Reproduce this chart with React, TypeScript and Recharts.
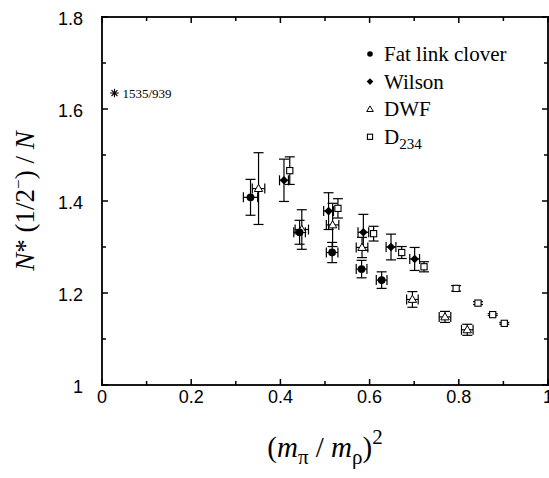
import React from "react";
import { ScatterChart, Scatter, XAxis, YAxis, ErrorBar } from "recharts";

// tick positions (labels on every second one)
const xTicks = [0, 0.1, 0.2, 0.3, 0.4, 0.5, 0.6, 0.7, 0.8, 0.9, 1];
const yTicks = [1, 1.1, 1.2, 1.3, 1.4, 1.5, 1.6, 1.7, 1.8];

// Fat link clover
const fatX = [0.333, 0.443, 0.516, 0.582, 0.627];
const fatY = [1.408, 1.332, 1.288, 1.252, 1.228];
const fatYErr = [0.039, 0.026, 0.022, 0.019, 0.018];
const fatXErr = [0.016, 0.013, 0.013, 0.012, 0.012];

// Wilson
const wilsonX = [0.408, 0.508, 0.586, 0.648, 0.701];
const wilsonY = [1.445, 1.378, 1.332, 1.3, 1.274];
const wilsonYErr = [0.046, 0.04, 0.039, 0.028, 0.025];
const wilsonXErr = [0.01, 0.011, 0.012, 0.011, 0.011];

// DWF
const dwfX = [0.351, 0.448, 0.517, 0.583, 0.696, 0.769, 0.819];
const dwfY = [1.427, 1.338, 1.348, 1.299, 1.186, 1.148, 1.12];
const dwfYErr = [0.078, 0.043, 0.047, 0.022, 0.017, 0.012, 0.012];
const dwfXErr = [0.014, 0.015, 0.014, 0.013, 0.013, 0.013, 0.013];

// D234
const d234X = [0.421, 0.529, 0.609, 0.672, 0.722, 0.794, 0.843, 0.876, 0.902];
const d234Y = [1.466, 1.384, 1.329, 1.288, 1.257, 1.21, 1.178, 1.153, 1.134];
const d234YErr = [0.03, 0.021, 0.016, 0.013, 0.011, 0.006, 0.003, 0.002, 0.002];

// experimental ratio 1535/939
const ratioX = [0.028];
const ratioY = [1.6347];
const ratioLabel = "1535/939";

const rows = (xs: number[], ys: number[], ey: number[], ex?: number[]) =>
  xs.map((x, i) => ({ x, y: ys[i], ey: ey[i], ex: ex ? ex[i] : 0 }));

const fatData = rows(fatX, fatY, fatYErr, fatXErr);
const wilsonData = rows(wilsonX, wilsonY, wilsonYErr, wilsonXErr);
const dwfData = rows(dwfX, dwfY, dwfYErr, dwfXErr);
const d234Data = rows(d234X, d234Y, d234YErr);
const ratioData = ratioX.map((x, i) => ({ x, y: ratioY[i] }));

const W = 549;
const H = 478;
const MARGIN = { top: 17, right: 1, bottom: 0, left: 0 };
const YAXIS_W = 102;
const XAXIS_H = 93;
const PLOT_L = MARGIN.left + YAXIS_W;
const PLOT_T = MARGIN.top;
const PLOT_W = W - MARGIN.left - MARGIN.right - YAXIS_W;
const PLOT_H = H - MARGIN.top - MARGIN.bottom - XAXIS_H;
const X_DOMAIN = [0, 1];
const Y_DOMAIN = [1, 1.8];

const SANS = "Liberation Sans, Arial, sans-serif";
const SERIF = "Liberation Serif, Times New Roman, Times, serif";

const isMajor = (v: number) => Math.round(v * 10) % 2 === 0;

const Dot = ({ cx, cy, r = 3.9 }: any) => <circle cx={cx} cy={cy} r={r} fill="#000" />;
const Diamond = ({ cx, cy, r = 4.3 }: any) => (
  <polygon points={`${cx},${cy - r} ${cx + r},${cy} ${cx},${cy + r} ${cx - r},${cy}`} fill="#000" />
);
const Triangle = ({ cx, cy, r = 4.2 }: any) => (
  <polygon
    points={`${cx},${cy - r} ${cx + r},${cy + r * 0.7} ${cx - r},${cy + r * 0.7}`}
    fill="#fff"
    stroke="#000"
    strokeWidth={1}
  />
);
const Square = ({ cx, cy, r = 3.1 }: any) => (
  <rect x={cx - r} y={cy - r} width={2 * r} height={2 * r} fill="#fff" stroke="#000" strokeWidth={1.1} />
);
const Star = ({ cx, cy }: any) => {
  const r = 4.2;
  const d = r * 0.707;
  return (
    <g stroke="#000" strokeWidth={1.1}>
      <line x1={cx - r} y1={cy} x2={cx + r} y2={cy} />
      <line x1={cx} y1={cy - r} x2={cx} y2={cy + r} />
      <line x1={cx - d} y1={cy - d} x2={cx + d} y2={cy + d} />
      <line x1={cx - d} y1={cy + d} x2={cx + d} y2={cy - d} />
      <text x={cx + 8} y={cy + 5} style={{ fontFamily: SERIF }} fontSize={13} stroke="none" fill="#000">
        {ratioLabel}
      </text>
    </g>
  );
};

const BottomTick = ({ x, y, payload }: any) =>
  isMajor(payload.value) ? (
    <text x={x} y={y + 18} textAnchor="middle" style={{ fontFamily: SANS }} fontSize={18} fill="#000">
      {String(payload.value)}
    </text>
  ) : (
    <g />
  );
const LeftTick = ({ x, y, payload }: any) =>
  isMajor(payload.value) ? (
    <text x={x - 19} y={y + 8} textAnchor="end" style={{ fontFamily: SANS }} fontSize={18} fill="#000">
      {String(payload.value)}
    </text>
  ) : (
    <g />
  );

const XLabel = ({ viewBox }: any) => {
  const cx = viewBox.x + viewBox.width / 2;
  return (
    <text x={cx} y={457} textAnchor="middle" style={{ fontFamily: SERIF }} fontSize={29} fill="#000">
      <tspan>(</tspan>
      <tspan fontStyle="italic">m</tspan>
      <tspan fontSize={21} dy={7}>π</tspan>
      <tspan dy={-7}> / </tspan>
      <tspan fontStyle="italic">m</tspan>
      <tspan fontSize={21} dy={7}>ρ</tspan>
      <tspan dy={-7}>)</tspan>
      <tspan fontSize={21} dy={-13}>2</tspan>
    </text>
  );
};

const YLabel = ({ viewBox }: any) => {
  const cy = viewBox.y + viewBox.height / 2;
  const x = 34;
  return (
    <text
      x={x}
      y={cy}
      transform={`rotate(-90 ${x} ${cy})`}
      textAnchor="middle"
      style={{ fontFamily: SERIF }}
      fontSize={27}
      fill="#000"
    >
      <tspan fontStyle="italic">N</tspan>
      <tspan>* (1/2</tspan>
      <tspan fontSize={17} dy={-10}>−</tspan>
      <tspan dy={10}>) / </tspan>
      <tspan fontStyle="italic">N</tspan>
    </text>
  );
};

const legendItems = [
  { label: "Fat link clover", shape: "dot" },
  { label: "Wilson", shape: "diamond" },
  { label: "DWF", shape: "triangle" },
  { label: "D", sub: "234", shape: "square" },
];

// frame with inward ticks on all four sides, same linear mapping as the plot area
const px = (v: number) => PLOT_L + ((v - X_DOMAIN[0]) / (X_DOMAIN[1] - X_DOMAIN[0])) * PLOT_W;
const py = (v: number) => PLOT_T + PLOT_H - ((v - Y_DOMAIN[0]) / (Y_DOMAIN[1] - Y_DOMAIN[0])) * PLOT_H;
const LW = 1.8; // frame line thickness
const TW = 1.5; // tick thickness

const Overlay = () => (
  <svg width={W} height={H} style={{ position: "absolute", left: 0, top: 0, pointerEvents: "none" }}>
    {/* frame drawn as thin filled bars */}
    <rect x={PLOT_L - LW / 2} y={PLOT_T - LW / 2} width={PLOT_W + LW} height={LW} fill="#000" />
    <rect x={PLOT_L - LW / 2} y={PLOT_T + PLOT_H - LW / 2} width={PLOT_W + LW} height={LW} fill="#000" />
    <rect x={PLOT_L - LW / 2} y={PLOT_T - LW / 2} width={LW} height={PLOT_H + LW} fill="#000" />
    <rect x={PLOT_L + PLOT_W - LW / 2} y={PLOT_T - LW / 2} width={LW} height={PLOT_H + LW} fill="#000" />
    {xTicks.map((v) => {
      const len = isMajor(v) ? 6 : 4;
      const x = px(v) - TW / 2;
      return (
        <g key={`x${v}`} fill="#000">
          <rect x={x} y={PLOT_T + PLOT_H - len} width={TW} height={len} />
          <rect x={x} y={PLOT_T} width={TW} height={len} />
        </g>
      );
    })}
    {yTicks.map((v) => {
      const len = isMajor(v) ? 6 : 4;
      const y = py(v) - TW / 2;
      return (
        <g key={`y${v}`} fill="#000">
          <rect x={PLOT_L} y={y} width={len} height={TW} />
          <rect x={PLOT_L + PLOT_W - len} y={y} width={len} height={TW} />
        </g>
      );
    })}
    {legendItems.map((it, i) => {
      const cy = 54 + i * 27.6;
      const cx = 370;
      return (
        <g key={it.label}>
          {it.shape === "dot" && <Dot cx={cx} cy={cy} r={2.8} />}
          {it.shape === "diamond" && <Diamond cx={cx} cy={cy} r={3.3} />}
          {it.shape === "triangle" && <Triangle cx={cx} cy={cy} r={3.3} />}
          {it.shape === "square" && <Square cx={cx} cy={cy} r={2.6} />}
          <text x={384} y={cy + 7} style={{ fontFamily: SERIF }} fontSize={21} fill="#000">
            {it.label}
            {it.sub && (
              <tspan fontSize={15} dy={5}>
                {it.sub}
              </tspan>
            )}
          </text>
        </g>
      );
    })}
  </svg>
);

const bar = { stroke: "#000", strokeWidth: 1.2, width: 5 };

export default function App() {
  return (
    <div style={{ position: "absolute", left: 0, top: 0, width: W, height: H, background: "#fff" }}>
      <ScatterChart width={W} height={H} margin={MARGIN}>
        <XAxis
          type="number"
          dataKey="x"
          domain={X_DOMAIN}
          ticks={xTicks}
          interval={0}
          height={XAXIS_H}
          tickSize={0}
          tickMargin={0}
          tickLine={false}
          tick={BottomTick}
          axisLine={false}
          label={<XLabel />}
        />
        <YAxis
          type="number"
          dataKey="y"
          domain={Y_DOMAIN}
          ticks={yTicks}
          interval={0}
          width={YAXIS_W}
          tickSize={0}
          tickMargin={0}
          tickLine={false}
          tick={LeftTick}
          axisLine={false}
          label={<YLabel />}
        />
        <Scatter data={d234Data} shape={<Square />} isAnimationActive={false}>
          <ErrorBar dataKey="ey" direction="y" {...bar} />
        </Scatter>
        <Scatter data={dwfData} shape={<Triangle />} isAnimationActive={false}>
          <ErrorBar dataKey="ey" direction="y" {...bar} />
          <ErrorBar dataKey="ex" direction="x" {...bar} />
        </Scatter>
        <Scatter data={wilsonData} shape={<Diamond />} isAnimationActive={false}>
          <ErrorBar dataKey="ey" direction="y" {...bar} />
          <ErrorBar dataKey="ex" direction="x" {...bar} />
        </Scatter>
        <Scatter data={fatData} shape={<Dot />} isAnimationActive={false}>
          <ErrorBar dataKey="ey" direction="y" {...bar} />
          <ErrorBar dataKey="ex" direction="x" {...bar} />
        </Scatter>
        <Scatter data={ratioData} shape={<Star />} isAnimationActive={false} />
      </ScatterChart>
      <Overlay />
    </div>
  );
}
